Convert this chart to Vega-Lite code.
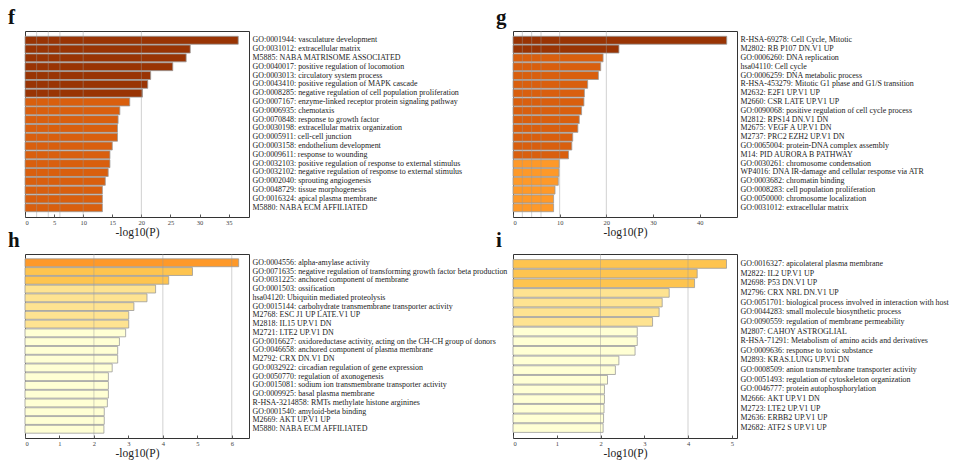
{
  "$schema": "https://vega.github.io/schema/vega-lite/v6.json",
  "background": "white",
  "padding": {"left": 7, "top": 6, "right": 0, "bottom": 0},
  "columns": 2,
  "spacing": {"row": 37, "column": 264},
  "bounds": "flush",
  "datasets": {
    "f": [
      {"term": "GO:0001944: vasculature development", "value": 36.65, "tier": "t1"},
      {"term": "GO:0031012: extracellular matrix", "value": 28.4, "tier": "t1"},
      {"term": "M5885: NABA MATRISOME ASSOCIATED", "value": 27.7, "tier": "t1"},
      {"term": "GO:0040017: positive regulation of locomotion", "value": 25.4, "tier": "t1"},
      {"term": "GO:0003013: circulatory system process", "value": 21.6, "tier": "t1"},
      {"term": "GO:0043410: positive regulation of MAPK cascade", "value": 21.1, "tier": "t1"},
      {"term": "GO:0008285: negative regulation of cell population proliferation", "value": 20.2, "tier": "t1"},
      {"term": "GO:0007167: enzyme-linked receptor protein signaling pathway", "value": 18.0, "tier": "t2"},
      {"term": "GO:0006935: chemotaxis", "value": 16.3, "tier": "t2"},
      {"term": "GO:0070848: response to growth factor", "value": 16.0, "tier": "t2"},
      {"term": "GO:0030198: extracellular matrix organization", "value": 15.9, "tier": "t2"},
      {"term": "GO:0005911: cell-cell junction", "value": 15.9, "tier": "t2"},
      {"term": "GO:0003158: endothelium development", "value": 15.0, "tier": "t2"},
      {"term": "GO:0009611: response to wounding", "value": 14.6, "tier": "t2"},
      {"term": "GO:0032103: positive regulation of response to external stimulus", "value": 14.6, "tier": "t2"},
      {"term": "GO:0032102: negative regulation of response to external stimulus", "value": 14.3, "tier": "t2"},
      {"term": "GO:0002040: sprouting angiogenesis", "value": 13.8, "tier": "t2"},
      {"term": "GO:0048729: tissue morphogenesis", "value": 13.3, "tier": "t2"},
      {"term": "GO:0016324: apical plasma membrane", "value": 13.3, "tier": "t2"},
      {"term": "M5880: NABA ECM AFFILIATED", "value": 13.3, "tier": "t2"}
    ],
    "g": [
      {"term": "R-HSA-69278: Cell Cycle, Mitotic", "value": 45.8, "tier": "t1"},
      {"term": "M2802: RB P107 DN.V1 UP", "value": 22.7, "tier": "t1"},
      {"term": "GO:0006260: DNA replication", "value": 19.3, "tier": "t2"},
      {"term": "hsa04110: Cell cycle", "value": 18.8, "tier": "t2"},
      {"term": "GO:0006259: DNA metabolic process", "value": 18.3, "tier": "t2"},
      {"term": "R-HSA-453279: Mitotic G1 phase and G1/S transition", "value": 16.0, "tier": "t2"},
      {"term": "M2632: E2F1 UP.V1 UP", "value": 15.3, "tier": "t2"},
      {"term": "M2660: CSR LATE UP.V1 UP", "value": 15.2, "tier": "t2"},
      {"term": "GO:0090068: positive regulation of cell cycle process", "value": 14.7, "tier": "t2"},
      {"term": "M2812: RPS14 DN.V1 DN", "value": 14.2, "tier": "t2"},
      {"term": "M2675: VEGF A UP.V1 DN", "value": 13.9, "tier": "t2"},
      {"term": "M2737: PRC2 EZH2 UP.V1 DN", "value": 12.8, "tier": "t2"},
      {"term": "GO:0065004: protein-DNA complex assembly", "value": 12.6, "tier": "t2"},
      {"term": "M14: PID AURORA B PATHWAY", "value": 11.9, "tier": "t2"},
      {"term": "GO:0030261: chromosome condensation", "value": 9.9, "tier": "t3"},
      {"term": "WP4016: DNA IR-damage and cellular response via ATR", "value": 9.85, "tier": "t3"},
      {"term": "GO:0003682: chromatin binding", "value": 9.7, "tier": "t3"},
      {"term": "GO:0008283: cell population proliferation", "value": 9.0, "tier": "t3"},
      {"term": "GO:0050000: chromosome localization", "value": 8.7, "tier": "t3"},
      {"term": "GO:0031012: extracellular matrix", "value": 8.7, "tier": "t3"}
    ],
    "h": [
      {"term": "GO:0004556: alpha-amylase activity", "value": 6.2, "tier": "t3"},
      {"term": "GO:0071635: negative regulation of transforming growth factor beta production", "value": 4.86, "tier": "t4"},
      {"term": "GO:0031225: anchored component of membrane", "value": 4.17, "tier": "t4"},
      {"term": "GO:0001503: ossification", "value": 3.79, "tier": "t5"},
      {"term": "hsa04120: Ubiquitin mediated proteolysis", "value": 3.54, "tier": "t5"},
      {"term": "GO:0015144: carbohydrate transmembrane transporter activity", "value": 3.16, "tier": "t5"},
      {"term": "M2768: ESC J1 UP LATE.V1 UP", "value": 3.01, "tier": "t5"},
      {"term": "M2818: IL15 UP.V1 DN", "value": 3.01, "tier": "t5"},
      {"term": "M2721: LTE2 UP.V1 DN", "value": 2.92, "tier": "t6"},
      {"term": "GO:0016627: oxidoreductase activity, acting on the CH-CH group of donors", "value": 2.74, "tier": "t6"},
      {"term": "GO:0046658: anchored component of plasma membrane", "value": 2.69, "tier": "t6"},
      {"term": "M2792: CRX DN.V1 DN", "value": 2.69, "tier": "t6"},
      {"term": "GO:0032922: circadian regulation of gene expression", "value": 2.53, "tier": "t6"},
      {"term": "GO:0050770: regulation of axonogenesis", "value": 2.42, "tier": "t6"},
      {"term": "GO:0015081: sodium ion transmembrane transporter activity", "value": 2.42, "tier": "t6"},
      {"term": "GO:0009925: basal plasma membrane", "value": 2.42, "tier": "t6"},
      {"term": "R-HSA-3214858: RMTs methylate histone arginines", "value": 2.39, "tier": "t6"},
      {"term": "GO:0001540: amyloid-beta binding", "value": 2.3, "tier": "t6"},
      {"term": "M2669: AKT UP.V1 UP", "value": 2.3, "tier": "t6"},
      {"term": "M5880: NABA ECM AFFILIATED", "value": 2.29, "tier": "t6"}
    ],
    "i": [
      {"term": "GO:0016327: apicolateral plasma membrane", "value": 4.88, "tier": "t4"},
      {"term": "M2822: IL2 UP.V1 UP", "value": 4.21, "tier": "t4"},
      {"term": "M2698: P53 DN.V1 UP", "value": 4.15, "tier": "t4"},
      {"term": "M2796: CRX NRL DN.V1 UP", "value": 3.57, "tier": "t5"},
      {"term": "GO:0051701: biological process involved in interaction with host", "value": 3.41, "tier": "t5"},
      {"term": "GO:0044283: small molecule biosynthetic process", "value": 3.34, "tier": "t5"},
      {"term": "GO:0090559: regulation of membrane permeability", "value": 3.19, "tier": "t5"},
      {"term": "M2807: CAHOY ASTROGLIAL", "value": 2.84, "tier": "t6"},
      {"term": "R-HSA-71291: Metabolism of amino acids and derivatives", "value": 2.84, "tier": "t6"},
      {"term": "GO:0009636: response to toxic substance", "value": 2.79, "tier": "t6"},
      {"term": "M2893: KRAS.LUNG UP.V1 DN", "value": 2.42, "tier": "t6"},
      {"term": "GO:0008509: anion transmembrane transporter activity", "value": 2.34, "tier": "t6"},
      {"term": "GO:0051493: regulation of cytoskeleton organization", "value": 2.16, "tier": "t6"},
      {"term": "GO:0046777: protein autophosphorylation", "value": 2.09, "tier": "t6"},
      {"term": "M2666: AKT UP.V1 DN", "value": 2.09, "tier": "t6"},
      {"term": "M2723: LTE2 UP.V1 UP", "value": 2.08, "tier": "t6"},
      {"term": "M2636: ERBB2 UP.V1 UP", "value": 2.07, "tier": "t6"},
      {"term": "M2682: ATF2 S UP.V1 UP", "value": 2.06, "tier": "t6"}
    ],
    "grid": [{"v": 2}, {"v": 4}, {"v": 6}, {"v": 10}, {"v": 20}]
  },
  "concat": [
    {
      "width": 224, "height": 186,
      "title": {"text": "f", "anchor": "start", "frame": "group", "dx": -17, "offset": 3},
      "layer": [
        {
          "data": {"name": "f"},
          "mark": {"type": "bar", "stroke": "#9a9a9a", "strokeWidth": 0.8},
          "encoding": {
            "y": {"field": "term", "type": "nominal", "sort": null, "scale": {"paddingInner": 0.1, "paddingOuter": 0.6}, "axis": {"orient": "right", "title": null, "ticks": false, "domain": false, "labelPadding": 3, "labelLimit": 400, "labelFont": "Liberation Serif", "labelFontSize": 7.95, "labelColor": "#222"}},
            "x": {"field": "value", "type": "quantitative", "title": "-log10(P)", "scale": {"domain": [0, 38.5], "nice": false}, "axis": {"values": [0, 5, 10, 15, 20, 25, 30, 35]}},
            "color": {"field": "tier", "type": "nominal", "scale": {"domain": ["t1", "t2", "t3", "t4", "t5", "t6"], "range": ["#993404", "#d95f0e", "#fe9929", "#fec44f", "#fee391", "#ffffd4"]}, "legend": null}
          }
        },
        {
          "data": {"name": "grid"},
          "transform": [{"filter": "datum.v <= 38.5"}],
          "mark": {"type": "rule", "color": "#999", "opacity": 0.45, "strokeWidth": 1},
          "encoding": {"x": {"field": "v", "type": "quantitative", "title": "-log10(P)", "axis": {"values": [0, 5, 10, 15, 20, 25, 30, 35]}}}
        }
      ]
    },
    {
      "width": 224, "height": 186,
      "title": {"text": "g", "anchor": "start", "frame": "group", "dx": -17, "offset": 3},
      "layer": [
        {
          "data": {"name": "g"},
          "mark": {"type": "bar", "stroke": "#9a9a9a", "strokeWidth": 0.8},
          "encoding": {
            "y": {"field": "term", "type": "nominal", "sort": null, "scale": {"paddingInner": 0.1, "paddingOuter": 0.6}, "axis": {"orient": "right", "title": null, "ticks": false, "domain": false, "labelPadding": 3, "labelLimit": 400, "labelFont": "Liberation Serif", "labelFontSize": 7.95, "labelColor": "#222"}},
            "x": {"field": "value", "type": "quantitative", "title": "-log10(P)", "scale": {"domain": [0, 48], "nice": false}, "axis": {"values": [0, 10, 20, 30, 40]}},
            "color": {"field": "tier", "type": "nominal", "scale": {"domain": ["t1", "t2", "t3", "t4", "t5", "t6"], "range": ["#993404", "#d95f0e", "#fe9929", "#fec44f", "#fee391", "#ffffd4"]}, "legend": null}
          }
        },
        {
          "data": {"name": "grid"},
          "transform": [{"filter": "datum.v <= 48"}],
          "mark": {"type": "rule", "color": "#999", "opacity": 0.45, "strokeWidth": 1},
          "encoding": {"x": {"field": "v", "type": "quantitative", "title": "-log10(P)", "axis": {"values": [0, 10, 20, 30, 40]}}}
        }
      ]
    },
    {
      "width": 224, "height": 184,
      "title": {"text": "h", "anchor": "start", "frame": "group", "dx": -17, "offset": 3},
      "layer": [
        {
          "data": {"name": "h"},
          "mark": {"type": "bar", "stroke": "#9a9a9a", "strokeWidth": 0.8},
          "encoding": {
            "y": {"field": "term", "type": "nominal", "sort": null, "scale": {"paddingInner": 0.1, "paddingOuter": 0.55}, "axis": {"orient": "right", "title": null, "ticks": false, "domain": false, "labelPadding": 3, "labelLimit": 400, "labelFont": "Liberation Serif", "labelFontSize": 7.95, "labelColor": "#222"}},
            "x": {"field": "value", "type": "quantitative", "title": "-log10(P)", "scale": {"domain": [0, 6.5], "nice": false}, "axis": {"values": [0, 1, 2, 3, 4, 5, 6]}},
            "color": {"field": "tier", "type": "nominal", "scale": {"domain": ["t1", "t2", "t3", "t4", "t5", "t6"], "range": ["#993404", "#d95f0e", "#fe9929", "#fec44f", "#fee391", "#ffffd4"]}, "legend": null}
          }
        },
        {
          "data": {"name": "grid"},
          "transform": [{"filter": "datum.v <= 6.5"}],
          "mark": {"type": "rule", "color": "#999", "opacity": 0.45, "strokeWidth": 1},
          "encoding": {"x": {"field": "v", "type": "quantitative", "title": "-log10(P)", "axis": {"values": [0, 1, 2, 3, 4, 5, 6]}}}
        }
      ]
    },
    {
      "width": 224, "height": 184,
      "title": {"text": "i", "anchor": "start", "frame": "group", "dx": -17, "offset": 3},
      "layer": [
        {
          "data": {"name": "i"},
          "mark": {"type": "bar", "stroke": "#9a9a9a", "strokeWidth": 0.8},
          "encoding": {
            "y": {"field": "term", "type": "nominal", "sort": null, "scale": {"paddingInner": 0.1, "paddingOuter": 0.58}, "axis": {"orient": "right", "title": null, "ticks": false, "domain": false, "labelPadding": 3, "labelLimit": 400, "labelFont": "Liberation Serif", "labelFontSize": 7.95, "labelColor": "#222"}},
            "x": {"field": "value", "type": "quantitative", "title": "-log10(P)", "scale": {"domain": [0, 5.12], "nice": false}, "axis": {"values": [0, 1, 2, 3, 4, 5]}},
            "color": {"field": "tier", "type": "nominal", "scale": {"domain": ["t1", "t2", "t3", "t4", "t5", "t6"], "range": ["#993404", "#d95f0e", "#fe9929", "#fec44f", "#fee391", "#ffffd4"]}, "legend": null}
          }
        },
        {
          "data": {"name": "grid"},
          "transform": [{"filter": "datum.v <= 5.12"}],
          "mark": {"type": "rule", "color": "#999", "opacity": 0.45, "strokeWidth": 1},
          "encoding": {"x": {"field": "v", "type": "quantitative", "title": "-log10(P)", "axis": {"values": [0, 1, 2, 3, 4, 5]}}}
        }
      ]
    }
  ],
  "config": {
    "view": {"stroke": "#333", "strokeWidth": 1},
    "title": {"font": "Liberation Serif", "fontSize": 21, "fontWeight": "bold", "color": "#111"},
    "axisX": {"grid": false, "domain": false, "tickSize": -3, "tickColor": "#555", "labelOverlap": false, "labelFont": "Liberation Serif", "labelFontSize": 6.5, "labelColor": "#444", "labelPadding": 5, "titleFont": "Liberation Serif", "titleFontSize": 11.5, "titleFontWeight": "normal", "titleColor": "#222", "titlePadding": 1}
  }
}
